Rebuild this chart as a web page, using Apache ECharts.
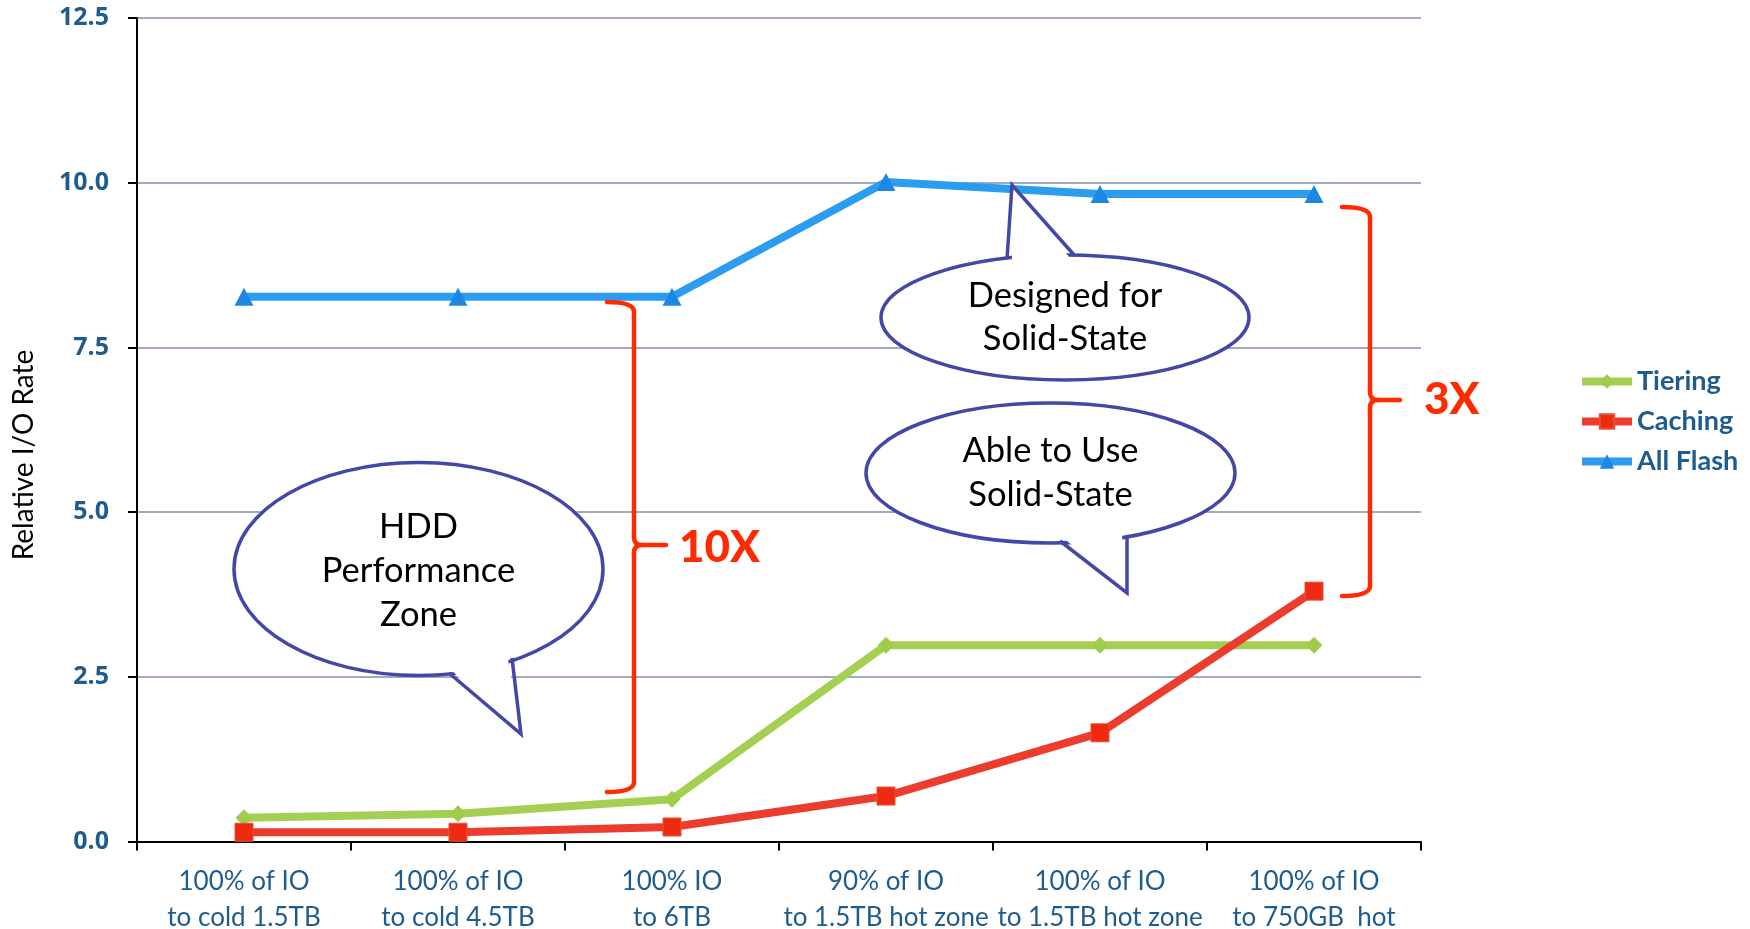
<!DOCTYPE html>
<html>
<head>
<meta charset="utf-8">
<script src="https://cdn.jsdelivr.net/npm/echarts@6/dist/echarts.min.js"></script>
<style>
html,body{margin:0;padding:0;background:#fff;}
#chart{width:1750px;height:929px;}
</style>
</head>
<body>
<div id="chart"></div>
<script>
var categories = [
  '100% of IO\nto cold 1.5TB',
  '100% of IO\nto cold 4.5TB',
  '100% IO\nto 6TB',
  '90% of IO\nto 1.5TB hot zone',
  '100% of IO\nto 1.5TB hot zone',
  '100% of IO\nto 750GB  hot'
];
var seriesNames = ['Tiering', 'Caching', 'All Flash'];
var tiering = [0.36, 0.42, 0.64, 2.98, 2.98, 2.98];
var caching = [0.14, 0.14, 0.22, 0.69, 1.65, 3.80];
var allFlash = [8.27, 8.27, 8.27, 10.01, 9.83, 9.83];
var yTicks = [0, 2.5, 5, 7.5, 10, 12.5];

var chart = echarts.init(document.getElementById('chart'));

var BLUE_TXT = '#1F5C8E';
var CALLOUT = '#4347A5';
var BRACE = '#FF2A00';

function callout(cx, cy, rx, ry, p1, tip, p2, lines, lineH) {
  function inward(p) {
    var dx = cx - p[0], dy = cy - p[1];
    var d = Math.sqrt(dx * dx + dy * dy);
    return [p[0] + dx / d * 7, p[1] + dy / d * 7];
  }
  return [
    {type: 'ellipse', shape: {cx: cx, cy: cy, rx: rx, ry: ry},
     style: {fill: '#fff', stroke: CALLOUT, lineWidth: 3.5}, z: 100},
    {type: 'polygon', shape: {points: [inward(p1), tip, inward(p2)]},
     style: {fill: '#fff', stroke: null}, z: 101},
    {type: 'polyline', shape: {points: [p1, tip, p2]},
     style: {fill: null, stroke: CALLOUT, lineWidth: 3.5, lineJoin: 'miter'}, z: 102},
    {type: 'text', x: cx, y: cy + (lines.length === 3 ? 2 : 0), z: 103,
     style: {text: lines.join('\n'), fill: '#000', font: '34.5px Lato',
             align: 'center', verticalAlign: 'middle', lineHeight: lineH}}
  ];
}

function brace(x0, x1, x2, yT, yM, yB) {
  var st = {fill: null, stroke: BRACE, lineWidth: 4.5, lineCap: 'round'};
  function q(ax, ay, cx, cy, bx, by) {
    return {type: 'bezierCurve', z: 90, style: st,
            shape: {x1: ax, y1: ay, cpx1: cx, cpy1: cy, x2: bx, y2: by}};
  }
  function l(ax, ay, bx, by) {
    return {type: 'line', z: 90, style: st, shape: {x1: ax, y1: ay, x2: bx, y2: by}};
  }
  return [
    q(x0, yT, x1, yT, x1, yT + 10),
    l(x1, yT + 10, x1, yM - 8),
    q(x1, yM - 8, x1, yM, x1 + 8, yM),
    l(x1 + 8, yM, x2, yM),
    q(x1 + 8, yM, x1, yM, x1, yM + 8),
    l(x1, yM + 8, x1, yB - 10),
    q(x1, yB - 10, x1, yB, x0, yB)
  ];
}

var graphics = [].concat(
  callout(418.5, 569, 184.5, 106.5, [512, 658], [521, 734], [449, 673], ['HDD', 'Performance', 'Zone'], 44),
  callout(1065, 317.5, 184, 62.5, [1007, 259], [1012, 185], [1075, 256], ['Designed for', 'Solid-State'], 43),
  callout(1050.5, 473, 184.5, 70, [1060, 541], [1127, 593], [1127, 535], ['Able to Use', 'Solid-State'], 44),
  brace(607, 634, 666, 302, 545, 792),
  brace(1342, 1370, 1400, 207, 400, 596),
  [
    {type: 'text', x: 679, y: 548, z: 95,
     style: {text: '10X', fill: BRACE, font: '900 44px Lato', align: 'left', verticalAlign: 'middle'}},
    {type: 'text', x: 1424, y: 400, z: 95,
     style: {text: '3X', fill: BRACE, font: '900 44px Lato', align: 'left', verticalAlign: 'middle'}},
    {type: 'text', x: 23.5, y: 455, rotation: Math.PI / 2, z: 95,
     style: {text: 'Relative I/O Rate', fill: '#000', font: '28px Lato', align: 'center', verticalAlign: 'middle'}}
  ]
);

var legendData = seriesNames.map(function (n) {
  return {name: n, lineStyle: {width: 8}};
});

chart.setOption({
  animation: false,
  backgroundColor: '#fff',
  grid: {left: 137, right: 329, top: 18, bottom: 87.5, containLabel: false, outerBoundsMode: 'none'},
  legend: {
    orient: 'vertical', left: 1578, top: 368, padding: 0,
    itemWidth: 50, itemHeight: 18, itemGap: 13,
    data: legendData,
    textStyle: {color: BLUE_TXT, fontSize: 27, fontWeight: 'bold', fontFamily: 'Lato'}
  },
  xAxis: {
    type: 'category', data: categories, boundaryGap: true,
    axisLine: {lineStyle: {color: '#000', width: 2}},
    axisTick: {show: true, length: 9, lineStyle: {color: '#000', width: 2}},
    axisLabel: {color: BLUE_TXT, fontSize: 26, fontFamily: 'Lato', lineHeight: 36, margin: 22, interval: 0},
    splitLine: {show: false}
  },
  yAxis: {
    type: 'value', min: yTicks[0], max: yTicks[yTicks.length - 1], interval: 2.5,
    axisLine: {show: true, lineStyle: {color: '#000', width: 2}},
    axisTick: {show: true, length: 9, lineStyle: {color: '#000', width: 2}},
    axisLabel: {color: BLUE_TXT, fontSize: 25, fontWeight: 'bold', fontFamily: 'Open Sans', margin: 28,
                formatter: function (v) { return v.toFixed(1); }},
    splitLine: {show: true, lineStyle: {color: '#A0AAC2', width: 2}}
  },
  series: [
    {name: seriesNames[0], type: 'line', data: tiering, symbol: 'diamond', symbolSize: 17,
     lineStyle: {color: '#A5CF52', width: 8}, itemStyle: {color: '#A0CC4C'}, z: 3},
    {name: seriesNames[1], type: 'line', data: caching, symbol: 'rect', symbolSize: 18,
     lineStyle: {color: '#EB3C2E', width: 8}, itemStyle: {color: '#EE2A10', borderColor: '#E8503A', borderWidth: 1}, z: 4},
    {name: seriesNames[2], type: 'line', data: allFlash, symbol: 'triangle', symbolSize: [19, 18],
     lineStyle: {color: '#2C9CF0', width: 8}, itemStyle: {color: '#1C88E4'}, z: 5}
  ],
  graphic: graphics
});
</script>
</body>
</html>
